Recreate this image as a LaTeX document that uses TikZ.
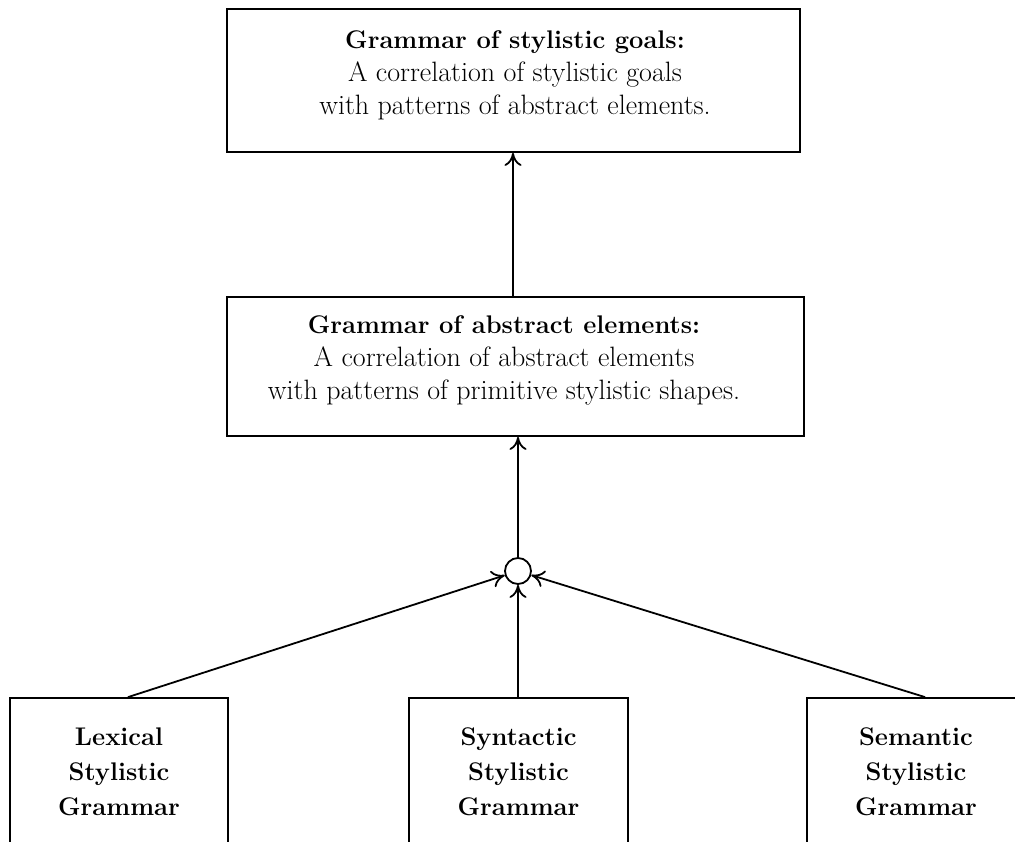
\documentclass[tikz,border=0pt]{standalone}
\usetikzlibrary{arrows.meta}
\begin{document}
\begin{tikzpicture}[x=1pt,y=-1pt,
  box/.style={draw,line width=1.8pt,inner sep=0pt},
  conn/.style={line width=1.8pt},
  arr/.style={conn,-{Computer Modern Rightarrow[length=13pt,width=17pt,line width=1.8pt]}},
  txt/.style={align=center,font=\fontsize{28}{33}\selectfont},
  btxt/.style={align=center,font=\fontsize{25.5}{35}\selectfont\bfseries}]
\useasboundingbox (0,0) rectangle (1015,841);
\clip (0,0) rectangle (1015,841);
% top box
\node[box,minimum width=573,minimum height=143] (top) at (513.5,80.5) {};
\node[txt] (toptext) at (515,75) {\fontsize{25.5}{33}\selectfont\textbf{Grammar of stylistic goals:}\\A correlation of stylistic goals\\with patterns of abstract elements.};
% middle box
\node[box,minimum width=577,minimum height=139] (mid) at (515.5,366.5) {};
\node[txt] (midtext) at (504,360) {\fontsize{25.5}{33}\selectfont\textbf{Grammar of abstract elements:}\\\fontsize{28}{33}\selectfont A correlation of abstract elements\\with patterns of primitive stylistic shapes.};
% junction circle
\node[draw,circle,line width=1.8pt,minimum size=26,inner sep=0pt] (circ) at (518,571) {};
% bottom boxes
\node[box,btxt,minimum width=218,minimum height=147] (lex) at (119,771.5) {Lexical\\Stylistic\\Grammar};
\node[box,btxt,minimum width=219,minimum height=147] (syn) at (518.5,771.5) {Syntactic\\Stylistic\\Grammar};
\node[box,btxt,minimum width=218,minimum height=147] (sem) at (916,771.5) {Semantic\\Stylistic\\Grammar};
% connectors
\draw[arr] (mid.north -| 513,0) -- (top.south -| 513,0);
\draw[arr] (circ.north) -- (circ.north |- mid.south);
\draw[arr] ([xshift=9pt]lex.north) -- (circ);
\draw[arr] (syn.north -| circ.south) -- (circ.south);
\draw[arr] ([xshift=9pt]sem.north) -- (circ);
\end{tikzpicture}
\end{document}
